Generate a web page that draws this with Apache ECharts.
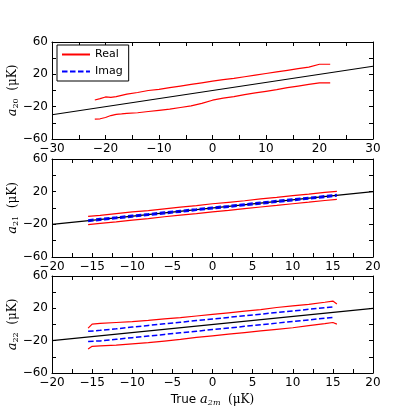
<!DOCTYPE html>
<html>
<head>
    <meta charset="utf-8">
    <title>a2m</title>
</head>
<body style="margin:0;background:#fff;">
    <div id="main" style="width: 415px;height:415px;"></div>

    <script src="https://cdn.jsdelivr.net/npm/echarts@6/dist/echarts.min.js"></script>
    <script type="text/javascript">
        // panel 1 : a20
        var trueX1 = [-30, 30];
        var x1 = [-22, -21, -20, -19, -18, -17, -16, -14, -12, -10, -8, -6, -4, -2, 0, 2, 4, 6, 8, 10, 12, 14, 16, 18, 20, 22];
        var real1Up = [-11.7, -10, -8, -8.5, -7.5, -6, -4.5, -2.5, 0, 1.5, 3.5, 5.5, 7.5, 9.5, 11.5, 13.5, 15, 17, 19, 21, 23, 25, 27, 29, 32.5, 32.5];
        var real1Lo = [-35.4, -35, -33.4, -31, -29.5, -29, -28.2, -27.5, -26, -24.5, -23, -21, -19, -16, -12, -9.5, -7.5, -5, -3, -1, 1, 3.5, 5.5, 7.5, 9.5, 9.5];

        // panel 2 : a21
        var trueX2 = [-20, 20];
        var x2 = [-15.5, -14, -12, -10, -8, -6, -4, -2, 0, 2, 4, 6, 8, 10, 12, 14, 15.5];
        var real2Up = [-10.3, -9.1, -7.0, -4.8, -3.1, -1.0, 1.1, 3.0, 5.2, 7.0, 8.9, 11.1, 13.0, 15.1, 17.0, 19.2, 20.4];
        var real2Lo = [-20.3, -18.8, -16.9, -14.8, -12.9, -10.7, -8.8, -6.9, -4.7, -2.9, -0.8, 1.2, 3.1, 5.2, 7.1, 9.2, 10.6];
        var imag2Up = [-14.6, -13.0, -11.1, -9.0, -7.1, -5.0, -3.0, -1.1, 1.0, 2.9, 5.0, 7.0, 9.1, 11.0, 12.9, 15.0, 16.4];
        var imag2Lo = [-16.4, -15.0, -12.9, -11.0, -8.9, -7.0, -5.1, -2.9, -1.0, 1.0, 3.0, 4.9, 7.0, 9.0, 11.0, 13.0, 14.6];

        // panel 3 : a22
        var trueX3 = [-20, 20];
        var x3 = [-15.5, -15, -14, -12, -10, -8, -6, -4, -2, 0, 2, 4, 6, 8, 10, 12, 14, 15, 15.5];
        var real3Up = [-4.5, 0.5, 1.5, 2.5, 3.5, 5, 7, 8.5, 10.5, 12.5, 14.5, 16.5, 18.5, 21, 23, 25, 27.5, 29, 25.5];
        var real3Lo = [-30.3, -27, -26.5, -25.5, -24, -22.5, -20.5, -18.5, -16, -14, -12, -10, -8, -6, -4, -1.5, 1, 2.5, 0.5];
        var x3i = [-15.5, -14, -12, -10, -8, -6, -4, -2, 0, 2, 4, 6, 8, 10, 12, 14, 15];
        var imag3Up = [-8.5, -7.2, -5.3, -3.2, -1.2, 0.8, 2.8, 4.8, 6.8, 8.8, 10.8, 12.8, 14.8, 16.8, 18.8, 20.8, 21.8];
        var imag3Lo = [-21.0, -20.3, -18.3, -16.3, -14.3, -12.3, -10.3, -8.3, -6.3, -4.3, -2.3, -0.3, 1.7, 3.7, 5.7, 7.7, 8.7];

        var yLabels = [60, 20, -20, -60];
        var xLabelStep1 = 10, xLabelStep2 = 5;

        function pairs(xs, ys) {
            var out = [];
            for (var i = 0; i < xs.length; i++) out.push([xs[i], ys[i]]);
            return out;
        }
        function minus(v) { return String(v).replace('-', '\u2212'); }

        var grids = [
            {left: 52, top: 42, width: 321, height: 97, containLabel: false, outerBoundsMode: 'none'},
            {left: 52, top: 159, width: 321, height: 98, containLabel: false, outerBoundsMode: 'none'},
            {left: 52, top: 276, width: 321, height: 97, containLabel: false, outerBoundsMode: 'none'}
        ];
        var xr = [[-30, 30, 5, xLabelStep1], [-20, 20, 2.5, xLabelStep2], [-20, 20, 2.5, xLabelStep2]];
        var yNames = ['20', '21', '22'];

        var tickStyle = {show: true, inside: true, length: 4, lineStyle: {color: '#000', width: 1}};
        var lineStyleAx = {show: true, onZero: false, lineStyle: {color: '#000', width: 1}};
        var labelFont = {color: '#000', fontSize: 12, fontFamily: 'DejaVu Sans'};

        var xAxes = [], yAxes = [];
        for (var g = 0; g < 3; g++) {
            (function (g) {
                var step = xr[g][3];
                xAxes.push({
                    type: 'value', gridIndex: g, min: xr[g][0], max: xr[g][1], interval: xr[g][2],
                    position: 'bottom', axisLine: lineStyleAx, axisTick: tickStyle, splitLine: {show: false},
                    axisLabel: Object.assign({margin: 4, showMinLabel: true, showMaxLabel: true, hideOverlap: false,
                        formatter: function (v) { return (Math.abs(v % step) < 1e-9) ? minus(v) : ''; }}, labelFont),
                    name: g === 2 ? '{t|True }{a|a}{s|2m}{u|  (μK)}' : '',
                    nameLocation: 'middle', nameGap: 20, nameMoveOverlap: false,
                    nameTextStyle: {rich: {
                        t: {fontFamily: 'DejaVu Sans', fontSize: 12, color: '#000'},
                        a: {fontFamily: 'DejaVu Serif', fontStyle: 'italic', fontSize: 13, color: '#000'},
                        s: {fontFamily: 'DejaVu Serif', fontStyle: 'italic', fontSize: 8, color: '#000', verticalAlign: 'bottom', padding: [6, 0, 0, 0]},
                        u: {fontFamily: 'DejaVu Serif', fontSize: 12, color: '#000'}
                    }}
                });
                xAxes.push({
                    type: 'value', gridIndex: g, min: xr[g][0], max: xr[g][1], interval: xr[g][2],
                    position: 'top', axisLine: lineStyleAx, axisTick: tickStyle, splitLine: {show: false},
                    axisLabel: {show: false}
                });
                yAxes.push({
                    type: 'value', gridIndex: g, min: -60, max: 60, interval: 20,
                    position: 'left', axisLine: lineStyleAx, axisTick: tickStyle, splitLine: {show: false},
                    axisLabel: Object.assign({margin: 4, showMinLabel: true, showMaxLabel: true, hideOverlap: false,
                        formatter: function (v) { return yLabels.indexOf(v) >= 0 ? minus(v) : ''; }}, labelFont),
                    name: '{a|a}{s|' + yNames[g] + '}{u|  (μK)}',
                    nameLocation: 'middle', nameGap: 32, nameRotate: 90, nameMoveOverlap: false,
                    nameTextStyle: {rich: {
                        a: {fontFamily: 'DejaVu Serif', fontStyle: 'italic', fontSize: 13, color: '#000'},
                        s: {fontFamily: 'DejaVu Serif', fontSize: 8, color: '#000', verticalAlign: 'bottom', padding: [6, 0, 0, 0]},
                        u: {fontFamily: 'DejaVu Serif', fontSize: 12, color: '#000'}
                    }}
                });
                yAxes.push({
                    type: 'value', gridIndex: g, min: -60, max: 60, interval: 20,
                    position: 'right', axisLine: lineStyleAx, axisTick: tickStyle, splitLine: {show: false},
                    axisLabel: {show: false}
                });
            })(g);
        }

        function mk(name, data, g, color, dashed, width) {
            return {
                name: name, type: 'line', data: data, xAxisIndex: g * 2, yAxisIndex: g * 2,
                symbol: 'none', silent: true, animation: false,
                lineStyle: {color: color, width: width || 1.2, type: dashed ? [5.5, 2.5] : 'solid'},
                itemStyle: {color: color}
            };
        }

        var series = [
            mk('true', pairs(trueX1, trueX1), 0, '#000'),
            mk('Real', pairs(x1, real1Up), 0, '#ff0000'),
            mk('Real', pairs(x1, real1Lo), 0, '#ff0000'),

            mk('true', pairs(trueX2, trueX2), 1, '#000'),
            mk('Real', pairs(x2, real2Up), 1, '#ff0000'),
            mk('Real', pairs(x2, real2Lo), 1, '#ff0000'),
            mk('Imag', pairs(x2, imag2Up), 1, '#0000ff', true, 1.5),
            mk('Imag', pairs(x2, imag2Lo), 1, '#0000ff', true, 1.5),

            mk('true', pairs(trueX3, trueX3), 2, '#000'),
            mk('Real', pairs(x3, real3Up), 2, '#ff0000'),
            mk('Real', pairs(x3, real3Lo), 2, '#ff0000'),
            mk('Imag', pairs(x3i, imag3Up), 2, '#0000ff', true, 1.5),
            mk('Imag', pairs(x3i, imag3Lo), 2, '#0000ff', true, 1.5)
        ];

        var myChart = echarts.init(document.getElementById('main'));
        var option = {
            backgroundColor: '#fff',
            animation: false,
            legend: {
                data: ['Real', 'Imag'],
                orient: 'vertical',
                left: 57, top: 45,
                padding: [4, 6, 4, 4],
                itemGap: 6,
                itemWidth: 28, itemHeight: 12,
                borderColor: '#000', borderWidth: 1, borderRadius: 0,
                backgroundColor: '#fff',
                itemStyle: {color: 'rgba(0,0,0,0)', borderColor: 'rgba(0,0,0,0)', borderWidth: 0, opacity: 0},
                textStyle: {color: '#000', fontSize: 11, fontFamily: 'DejaVu Sans'},
                selectedMode: false
            },
            grid: grids,
            xAxis: xAxes,
            yAxis: yAxes,
            series: series
        };
        myChart.setOption(option);
    </script>
</body>
</html>
